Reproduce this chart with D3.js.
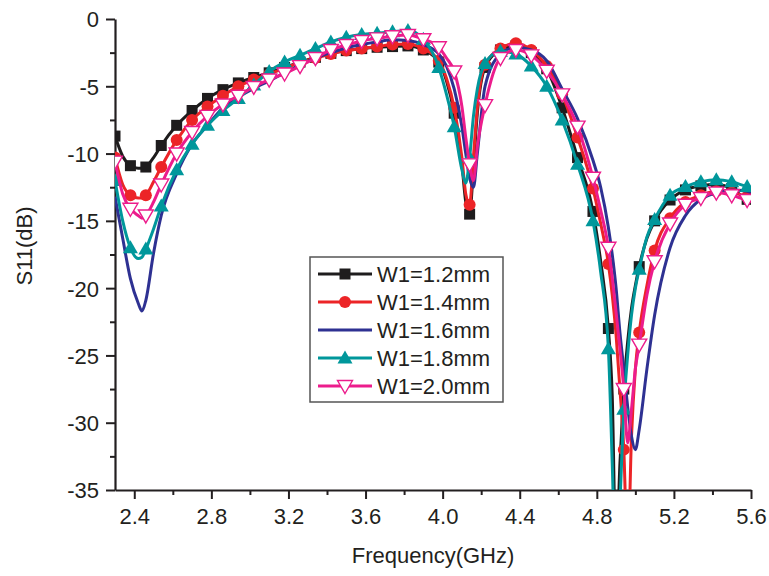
<!DOCTYPE html>
<html>
<head>
<meta charset="utf-8">
<script src="https://cdn.jsdelivr.net/npm/d3@7"></script>
<style>
  html, body { margin: 0; padding: 0; background: #fff; }
  svg { display: block; }
  text { font-family: "Liberation Sans", Arial, sans-serif; fill: #231f20; }
</style>
</head>
<body>
<svg id="chart" width="769" height="576"></svg>
<script>
// ---- data ----
const freq = [2.30,2.34,2.38,2.42,2.44,2.46,2.50,2.54,2.62,2.70,2.78,2.86,2.94,3.02,3.10,3.18,3.26,3.34,3.42,3.50,3.58,3.66,3.74,3.82,3.90,3.98,4.02,4.06,4.10,4.12,4.14,4.16,4.18,4.22,4.30,4.38,4.46,4.54,4.62,4.70,4.78,4.82,4.86,4.88,4.90,4.92,4.94,4.96,4.98,5.00,5.02,5.06,5.10,5.18,5.26,5.34,5.42,5.50,5.58,5.60];

const w12 = [-8.7,-10.2,-10.9,-11.1,-11.1,-11.0,-10.3,-9.4,-7.9,-6.8,-5.9,-5.25,-4.75,-4.35,-4.0,-3.6,-3.2,-2.85,-2.55,-2.35,-2.2,-2.1,-2.05,-2.0,-2.3,-3.2,-4.6,-7.0,-10.8,-13.6,-14.5,-11.0,-7.0,-3.6,-2.3,-2.0,-2.5,-3.7,-6.6,-10.3,-14.3,-18.0,-23.0,-28.0,-40,-33,-27.5,-24.0,-21.5,-19.8,-18.4,-16.3,-15.0,-13.45,-12.7,-12.4,-12.3,-12.6,-13.4,-13.5];
const w14 = [-10.3,-12.3,-13.1,-13.3,-13.3,-13.1,-12.1,-11.0,-9.0,-7.5,-6.5,-5.7,-5.0,-4.5,-4.1,-3.65,-3.25,-2.9,-2.6,-2.35,-2.2,-2.05,-1.9,-1.85,-2.2,-3.1,-4.4,-6.6,-10.3,-13.0,-13.8,-10.2,-6.6,-3.4,-2.2,-1.8,-2.3,-3.5,-5.6,-8.8,-12.6,-15.2,-18.2,-20.5,-23.5,-27.5,-32.0,-40,-31,-26.0,-23.3,-19.8,-17.2,-14.8,-13.6,-13.1,-12.8,-12.9,-13.2,-13.3];
const w16 = [-13.2,-16.3,-19.3,-21.1,-21.7,-20.9,-17.4,-14.6,-11.5,-9.3,-7.9,-6.6,-5.8,-5.15,-4.6,-4.0,-3.4,-2.9,-2.5,-2.15,-1.9,-1.7,-1.55,-1.6,-1.9,-2.6,-3.5,-5.2,-8.0,-10.0,-11.8,-12.5,-10.0,-5.0,-2.6,-2.1,-2.3,-3.1,-5.2,-7.4,-10.5,-12.5,-15.5,-17.5,-20.0,-23.3,-26.0,-28.8,-31.0,-32.0,-30.5,-26.0,-22.0,-17.0,-14.6,-13.4,-12.9,-12.7,-12.8,-12.9];
const w18 = [-12.0,-15.0,-17.0,-17.8,-17.7,-17.1,-15.6,-13.9,-11.2,-9.3,-7.9,-6.8,-5.9,-4.9,-3.9,-3.2,-2.7,-2.2,-1.7,-1.35,-1.15,-1.05,-0.95,-0.85,-1.5,-3.6,-5.6,-8.0,-11.2,-12.2,-10.3,-7.2,-5.2,-3.3,-2.4,-2.6,-3.5,-5.0,-7.5,-10.8,-15.0,-18.8,-24.5,-33,-42,-36,-29,-25,-22,-20,-18.6,-16.2,-14.9,-13.1,-12.45,-12.1,-11.95,-12.1,-12.45,-12.5];
const w20 = [-10.6,-13.0,-14.1,-14.6,-14.8,-14.6,-13.6,-12.3,-10.0,-8.4,-7.2,-6.35,-5.7,-5.05,-4.5,-4.05,-3.5,-2.9,-2.3,-1.93,-1.63,-1.44,-1.28,-1.19,-1.5,-2.1,-2.9,-3.9,-6.5,-8.8,-10.8,-12.0,-9.5,-6.4,-2.9,-2.3,-2.7,-3.85,-5.6,-8.0,-11.8,-14.2,-17.0,-19.2,-21.8,-24.5,-27.5,-31.5,-29.0,-26.0,-24.2,-20.5,-18.0,-15.2,-13.8,-13.3,-12.9,-13.1,-13.45,-13.5];

const seriesNames = ["W1=1.2mm","W1=1.4mm","W1=1.6mm","W1=1.8mm","W1=2.0mm"];
const seriesValues = [w12, w14, w16, w18, w20];
const xTicks = [2.4,2.8,3.2,3.6,4.0,4.4,4.8,5.2,5.6];
const yTicks = [0,-5,-10,-15,-20,-25,-30,-35];
const xTitle = "Frequency(GHz)";
const yTitle = "S11(dB)";

// ---- styles ----
const colors = ["#1e1c1d", "#ec2427", "#2e3192", "#00979b", "#ec1c8c"];
const markerTypes = ["square", "circle", "none", "triangle", "invtriangle"];

const svg = d3.select("#chart");
const pL = 115, pR = 751, pT = 19, pB = 490;

const x = d3.scaleLinear().domain([2.3, 5.6]).range([pL, pR]);
const y = d3.scaleLinear().domain([-35, 0]).range([pB, pT]);

// clip
svg.append("defs").append("clipPath").attr("id", "plotclip")
  .append("rect").attr("x", pL).attr("y", pT - 10).attr("width", pR - pL).attr("height", pB - pT + 10);

// axes
const axisColor = "#231f20";
const xAxis = d3.axisBottom(x).tickValues(xTicks).tickFormat(d => d.toFixed(1)).tickSize(9).tickSizeOuter(0);
const gx = svg.append("g").attr("transform", `translate(0,${pB})`).call(xAxis);
const xMinor = d3.axisBottom(x).tickValues(d3.range(2.6, 5.5, 0.4)).tickFormat("").tickSize(5).tickSizeOuter(0);
const gxm = svg.append("g").attr("transform", `translate(0,${pB})`).call(xMinor);
gxm.select(".domain").remove();

const yAxis = d3.axisLeft(y).tickValues(yTicks).tickFormat(d => String(d)).tickSize(9).tickSizeOuter(0);
const gy = svg.append("g").attr("transform", `translate(${pL},0)`).call(yAxis);
const yMinor = d3.axisLeft(y).tickValues(d3.range(-32.5, 0, 5)).tickFormat("").tickSize(5).tickSizeOuter(0);
const gym = svg.append("g").attr("transform", `translate(${pL},0)`).call(yMinor);
gym.select(".domain").remove();

[gx, gxm, gy, gym].forEach(g => {
  g.selectAll(".domain").attr("stroke", axisColor).attr("stroke-width", 2.2);
  g.selectAll(".tick line").attr("stroke", axisColor).attr("stroke-width", 2);
});
gx.selectAll(".tick text").attr("font-size", 22).attr("dy", null).attr("y", 34).style("font-family", "Liberation Sans, Arial, sans-serif").attr("fill", axisColor);
gy.selectAll(".tick text").attr("font-size", 22).attr("x", -16).attr("dy", "0.36em").style("font-family", "Liberation Sans, Arial, sans-serif").attr("fill", axisColor);

svg.append("text").attr("x", (pL + pR) / 2).attr("y", 563).attr("text-anchor", "middle")
  .attr("font-size", 22).text(xTitle);
svg.append("text").attr("transform", "translate(32,246) rotate(-90)").attr("text-anchor", "middle")
  .attr("font-size", 22).text(yTitle);

// lines
const plot = svg.append("g").attr("clip-path", "url(#plotclip)");
const line = d3.line().x(d => x(d[0])).y(d => y(d[1])).curve(d3.curveMonotoneX);
const isMarker = f => { const k = (f - 2.30) / 0.08; return Math.abs(k - Math.round(k)) < 1e-6; };

function drawMarker(g, type, color, cx, cy) {
  if (type === "square") {
    g.append("rect").attr("x", cx - 5.5).attr("y", cy - 5.5).attr("width", 11).attr("height", 11).attr("fill", color);
  } else if (type === "circle") {
    g.append("circle").attr("cx", cx).attr("cy", cy).attr("r", 6).attr("fill", color);
  } else if (type === "triangle") {
    g.append("path").attr("d", `M${cx},${cy - 7.5}L${cx + 7.5},${cy + 5.5}L${cx - 7.5},${cy + 5.5}Z`).attr("fill", color);
  } else if (type === "invtriangle") {
    g.append("path").attr("d", `M${cx},${cy + 7.5}L${cx + 7.5},${cy - 5.5}L${cx - 7.5},${cy - 5.5}Z`)
      .attr("fill", "#fff").attr("stroke", color).attr("stroke-width", 1.4);
  }
}

seriesValues.forEach((vals, i) => {
  const pts = freq.map((f, j) => [f, vals[j]]);
  const g = plot.append("g");
  g.append("path").datum(pts).attr("d", line).attr("fill", "none")
    .attr("stroke", colors[i]).attr("stroke-width", 3).attr("stroke-linejoin", "round");
  pts.filter(p => isMarker(p[0])).forEach(p => drawMarker(g, markerTypes[i], colors[i], x(p[0]), y(p[1])));
});

// legend
const lg = svg.append("g");
lg.append("rect").attr("x", 310).attr("y", 257).attr("width", 193).attr("height", 145)
  .attr("fill", "#fff").attr("stroke", "#555").attr("stroke-width", 1.5);
seriesNames.forEach((name, i) => {
  const ry = 274 + i * 28;
  lg.append("line").attr("x1", 318).attr("x2", 372).attr("y1", ry).attr("y2", ry)
    .attr("stroke", colors[i]).attr("stroke-width", 3);
  drawMarker(lg, markerTypes[i], colors[i], 345, ry);
  lg.append("text").attr("x", 377).attr("y", ry + 8).attr("font-size", 22).text(name);
});
</script>
</body>
</html>
